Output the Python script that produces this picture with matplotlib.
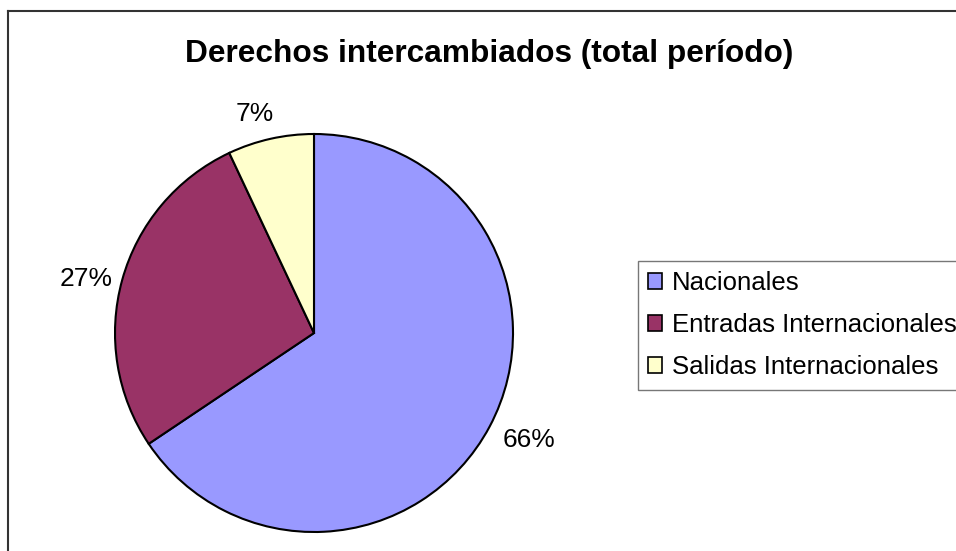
import matplotlib
matplotlib.use('Agg')
import matplotlib.pyplot as plt
from matplotlib.lines import Line2D
from matplotlib.patches import Patch

plt.rcParams['font.family'] = ['Liberation Sans', 'DejaVu Sans']

# Data
labels = ['Nacionales', 'Entradas Internacionales', 'Salidas Internacionales']
shares = [65.6, 27.4, 7.0]
colors = ['#9999FF', '#993366', '#FFFFCC']
title = 'Derechos intercambiados (total período)'

W, H = 956, 551
fig = plt.figure(figsize=(W / 100, H / 100), dpi=100)
fig.patch.set_facecolor('white')

# outer chart frame (only left and top edges visible)
fig.add_artist(Line2D([7.5 / W, 7.5 / W], [0, 1 - 10.5 / H],
                      transform=fig.transFigure, color='#333333', lw=1.5))
fig.add_artist(Line2D([7.5 / W, 1], [1 - 10.5 / H, 1 - 10.5 / H],
                      transform=fig.transFigure, color='#333333', lw=1.5))

# pie: center (314, 333) px, radius 199 px
cx, cy, r = 314, 333, 199
ax = fig.add_axes([(cx - r) / W, (H - cy - r) / H, 2 * r / W, 2 * r / H])
wedges, texts, autotexts = ax.pie(
    shares, colors=colors, startangle=90, counterclock=False,
    autopct='%.0f%%', pctdistance=1.19,
    wedgeprops=dict(edgecolor='black', linewidth=1.5),
    textprops=dict(fontsize=19, color='black'))
# small nudges to match label placement of the original
for t, (dx, dy) in zip(autotexts, [(0.03, 0.02), (0.0, -0.045), (-0.04, -0.06)]):
    x, y = t.get_position()
    t.set_position((x + dx, y + dy))
ax.set_xlim(-1, 1)
ax.set_ylim(-1, 1)
ax.set_aspect('equal')
ax.axis('off')

fig.text(489 / W, 1 - 62 / H, title, ha='center', va='baseline',
         fontsize=22.8, fontweight='bold')

handles = [Patch(facecolor=c, edgecolor='black', linewidth=1.2) for c in colors]
leg = fig.legend(handles, labels, loc='upper left',
                 bbox_to_anchor=(638 / W, 1 - 261 / H),
                 bbox_transform=fig.transFigure,
                 fontsize=18.5, frameon=True, fancybox=False,
                 handlelength=0.55, handleheight=0.55, handletextpad=0.36,
                 labelspacing=0.7, borderpad=0.4, borderaxespad=0)
leg.get_frame().set_edgecolor('#555555')
leg.get_frame().set_linewidth(1.0)

fig.savefig('out.png', dpi=100, facecolor='white')
